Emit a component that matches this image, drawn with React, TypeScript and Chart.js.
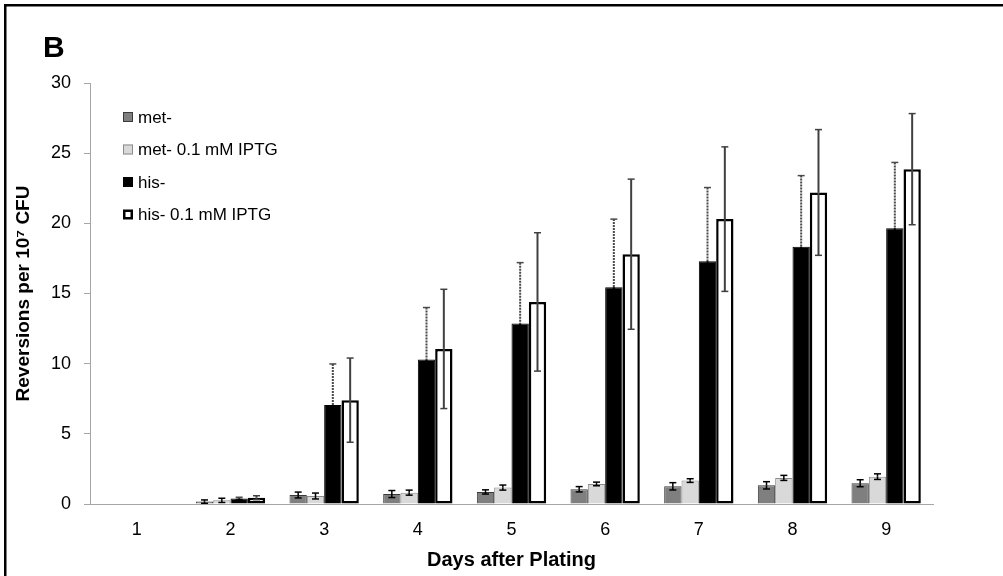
import React, { useEffect, useRef } from 'react';
import { Chart, registerables } from 'chart.js';

Chart.register(...registerables);

const days = ['1', '2', '3', '4', '5', '6', '7', '8', '9'];
const seriesLabels = ['met-', 'met- 0.1 mM IPTG', 'his-', 'his- 0.1 mM IPTG'];

const met = [null, 0.17, 0.64, 0.71, 0.86, 1.05, 1.26, 1.33, 1.48];
const metErr = [null, 0.12, 0.21, 0.25, 0.15, 0.19, 0.26, 0.26, 0.25];
const metIptg = [null, 0.26, 0.57, 0.81, 1.17, 1.43, 1.67, 1.86, 1.95];
const metIptgErr = [null, 0.15, 0.21, 0.18, 0.18, 0.13, 0.13, 0.18, 0.2];
const his = [null, 0.4, 7.05, 10.3, 12.86, 15.45, 17.3, 18.33, 19.65];
const hisErr = [null, 0.08, 2.93, 3.7, 4.34, 4.85, 5.25, 5.07, 4.69];
const hisIptg = [null, 0.45, 7.4, 11.05, 14.4, 17.8, 20.3, 22.2, 23.86];
const hisIptgErr = [null, 0.14, 3.0, 4.25, 4.93, 5.35, 5.15, 4.48, 3.96];

const yTicks = [0, 5, 10, 15, 20, 25, 30];

const FONT = '"Liberation Sans", Arial, Helvetica, sans-serif';

const seriesValues = [met, metIptg, his, hisIptg];
const seriesErrors = [metErr, metIptgErr, hisErr, hisIptgErr];
const fills = ['#7f7f7f', '#d9d9d9', '#000000', '#ffffff'];
const borders = ['#3a3a3a', '#8c8c8c', '#000000', '#000000'];
const borderWidths = [1, 1, 1, 2.5];
const errStyles = [
  { color: '#000000', lower: '#000000', width: 1.5, dash: [] as number[] },
  { color: '#000000', lower: '#000000', width: 1.5, dash: [] as number[] },
  { color: '#4a4a4a', lower: '#000000', width: 2, dash: [2, 1] },
  { color: '#404040', lower: '#404040', width: 2, dash: [] as number[] },
];

export default function App() {
  const ref = useRef<HTMLCanvasElement>(null);

  useEffect(() => {
    if (!ref.current) return;

    const errorBars = {
      id: 'errorBars',
      afterDatasetsDraw(chart: any) {
        const ctx = chart.ctx;
        const y = chart.scales.y;
        chart.data.datasets.forEach((ds: any, i: number) => {
          const meta = chart.getDatasetMeta(i);
          const errs = seriesErrors[i];
          const st = errStyles[i];
          meta.data.forEach((el: any, j: number) => {
            const v = ds.data[j];
            const e = errs[j];
            if (v == null || e == null) return;
            const x = el.x;
            const yv = y.getPixelForValue(v);
            const yt = y.getPixelForValue(v + e);
            const yb = y.getPixelForValue(Math.max(0, v - e));
            ctx.save();
            ctx.lineWidth = st.width;
            ctx.setLineDash(st.dash);
            ctx.strokeStyle = st.color;
            ctx.beginPath();
            ctx.moveTo(x, yt);
            ctx.lineTo(x, yv);
            ctx.stroke();
            ctx.strokeStyle = st.lower;
            ctx.beginPath();
            ctx.moveTo(x, yv);
            ctx.lineTo(x, yb);
            ctx.stroke();
            ctx.setLineDash([]);
            ctx.lineWidth = 1.5;
            ctx.strokeStyle = st.color;
            ctx.beginPath();
            ctx.moveTo(x - 3.5, yt);
            ctx.lineTo(x + 3.5, yt);
            ctx.stroke();
            ctx.strokeStyle = st.lower;
            ctx.beginPath();
            ctx.moveTo(x - 3.5, yb);
            ctx.lineTo(x + 3.5, yb);
            ctx.stroke();
            ctx.restore();
          });
        });
      },
    };

    const decorations = {
      id: 'decorations',
      afterDraw(chart: any) {
        const ctx = chart.ctx;
        ctx.save();
        // frame (top and left edges)
        ctx.fillStyle = '#000';
        ctx.fillRect(4, 4, chart.width, 2.5);
        ctx.fillRect(4, 4, 2.5, chart.height);
        // panel letter
        ctx.font = `bold 30px ${FONT}`;
        ctx.textBaseline = 'alphabetic';
        ctx.textAlign = 'left';
        ctx.fillText('B', 43, 57);
        // legend
        ctx.font = `17px ${FONT}`;
        ctx.textBaseline = 'middle';
        chart.data.datasets.forEach((ds: any, i: number) => {
          const cy = 117 + i * 32.5;
          const bx = 123;
          const size = 10;
          ctx.fillStyle = ds.backgroundColor;
          ctx.fillRect(bx, cy - size / 2, size, size);
          ctx.strokeStyle = ds.borderColor;
          ctx.lineWidth = i === 3 ? 2.5 : 1;
          const inset = ctx.lineWidth / 2;
          ctx.strokeRect(bx + inset, cy - size / 2 + inset, size - 2 * inset, size - 2 * inset);
          ctx.fillStyle = '#000';
          ctx.fillText(ds.label, 138, cy + 1);
        });
        ctx.restore();
      },
    };

    const chart = new Chart(ref.current, {
      type: 'bar',
      data: {
        labels: days,
        datasets: seriesValues.map((vals, i) => ({
          label: seriesLabels[i],
          data: vals,
          backgroundColor: fills[i],
          borderColor: borders[i],
          borderWidth: borderWidths[i],
          borderSkipped: i === 3 ? false : 'start',
          categoryPercentage: 0.74,
          barPercentage: 1,
        })),
      },
      options: {
        responsive: false,
        animation: false,
        layout: { padding: { top: 83, right: 70, left: 0, bottom: 0 } },
        plugins: {
          legend: { display: false },
          tooltip: { enabled: false },
        },
        scales: {
          x: {
            grid: { display: false, drawTicks: false },
            border: { display: true, color: '#a6a6a6', width: 1 },
            ticks: { font: { family: FONT, size: 18 }, color: '#000', padding: 15 },
            title: {
              display: true,
              text: 'Days after Plating',
              font: { family: FONT, size: 20, weight: 'bold' },
              color: '#000',
              padding: { top: 0, bottom: 4 },
            },
            afterFit(s: any) {
              s.height = 72;
            },
          },
          y: {
            min: 0,
            max: 30,
            afterBuildTicks(s: any) {
              s.ticks = yTicks.map((v) => ({ value: v }));
            },
            ticks: { font: { family: FONT, size: 18 }, color: '#000', padding: 13 },
            grid: { drawOnChartArea: false, drawTicks: true, tickLength: 6, color: '#a6a6a6' },
            border: { display: true, color: '#a6a6a6', width: 1 },
            title: {
              display: true,
              text: 'Reversions per 10⁷ CFU',
              font: { family: FONT, size: 19, weight: 'bold' },
              color: '#000',
              padding: { top: 12, bottom: 0 },
            },
            afterFit(s: any) {
              s.width = 90;
            },
          },
        },
      } as any,
      plugins: [errorBars, decorations],
    });

    return () => chart.destroy();
  }, []);

  return (
    <div style={{ position: 'absolute', left: 0, top: 0, width: 1003, height: 576, background: '#fff' }}>
      <canvas ref={ref} width={1003} height={576} style={{ width: '1003px', height: '576px' }} />
    </div>
  );
}
